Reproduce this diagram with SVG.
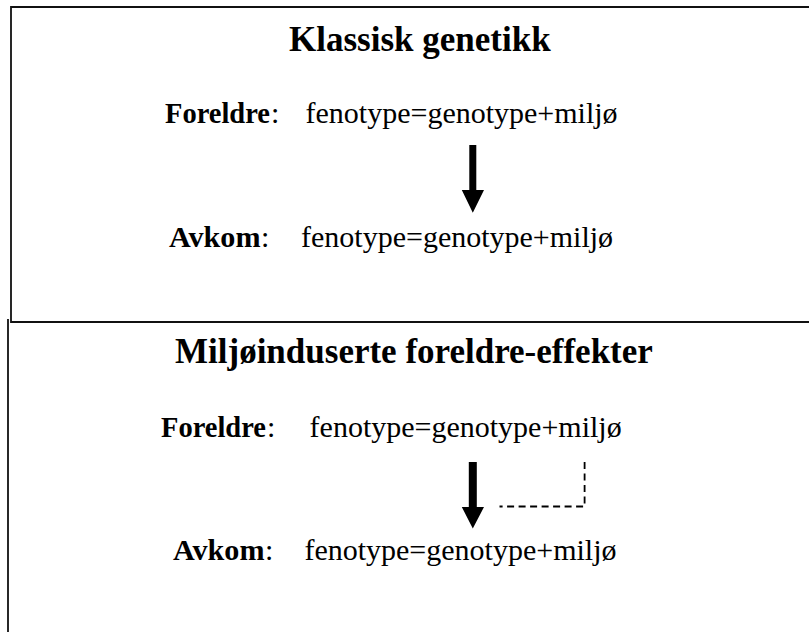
<svg xmlns="http://www.w3.org/2000/svg" width="809" height="632" viewBox="0 0 809 632">
<style>
.frame{fill:none;stroke:#111;stroke-width:1.8}
.title{font-family:"Liberation Serif","Times New Roman",serif;font-weight:bold;font-size:35px;fill:#000}
.lbl{font-family:"Liberation Serif","Times New Roman",serif;font-size:30px;fill:#000}
.b{font-weight:bold;font-size:28.5px}
.dash{fill:none;stroke:#000;stroke-width:1.8;stroke-dasharray:7 4.5}
</style>
<rect width="809" height="632" fill="#fff"/>
<g id="frames">
<path class="frame" d="M811 7 H11 V322 H811"/>
<path class="frame" d="M8 319 V634"/>
</g>
<g id="box-klassisk">
<text class="title" x="289" y="51">Klassisk genetikk</text>
<g id="foreldre-1"><text class="lbl" y="123"><tspan class="b" x="165" textLength="105" lengthAdjust="spacingAndGlyphs">Foreldre</tspan><tspan x="271">:</tspan><tspan x="305.5">fenotype=genotype+miljø</tspan></text></g>
<g id="avkom-1"><text class="lbl" y="247"><tspan class="b" x="169" textLength="91.5" lengthAdjust="spacingAndGlyphs">Avkom</tspan><tspan x="261">:</tspan><tspan x="301">fenotype=genotype+miljø</tspan></text></g>
</g>
<g id="box-miljo">
<text class="title" x="175" y="363">Miljøinduserte foreldre-effekter</text>
<g id="foreldre-2"><text class="lbl" y="437"><tspan class="b" x="161" textLength="105" lengthAdjust="spacingAndGlyphs">Foreldre</tspan><tspan x="267">:</tspan><tspan x="309.6">fenotype=genotype+miljø</tspan></text></g>
<g id="avkom-2"><text class="lbl" y="560"><tspan class="b" x="173" textLength="91.5" lengthAdjust="spacingAndGlyphs">Avkom</tspan><tspan x="265">:</tspan><tspan x="304.4">fenotype=genotype+miljø</tspan></text></g>
</g>
<g id="connectors">
<path d="M469.3 145 H476.3 V190 H484 L472.8 212.7 L461.8 190 H469.3 Z" fill="#000"/>
<path d="M468.8 462 H476.8 V507 H484 L472.8 528.5 L461.8 507 H468.8 Z" fill="#000"/>
<path class="dash" d="M584.6 462 V506.5 H499.5"/>
</g>
</svg>
